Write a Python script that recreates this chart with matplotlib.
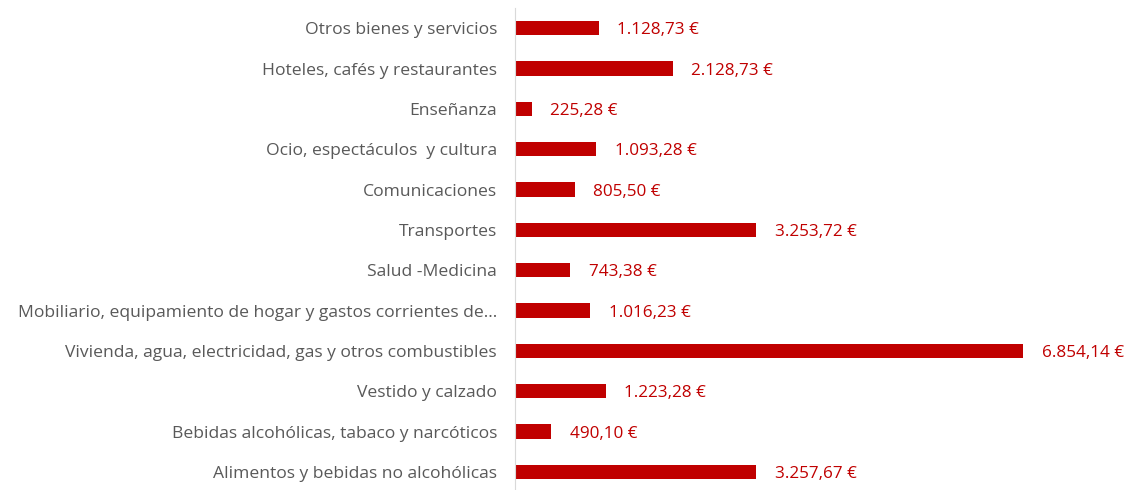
import matplotlib.pyplot as plt

categorias = [
    "Alimentos y bebidas no alcohólicas",
    "Bebidas alcohólicas, tabaco y narcóticos",
    "Vestido y calzado",
    "Vivienda, agua, electricidad, gas y otros combustibles",
    "Mobiliario, equipamiento de hogar y gastos corrientes de…",
    "Salud -Medicina",
    "Transportes",
    "Comunicaciones",
    "Ocio, espectáculos  y cultura",
    "Enseñanza",
    "Hoteles, cafés y restaurantes",
    "Otros bienes y servicios",
]
gasto = [3257.67, 490.10, 1223.28, 6854.14, 1016.23, 743.38,
         3253.72, 805.50, 1093.28, 225.28, 2128.73, 1128.73]

rojo = "#C00000"
gris = "#595959"


def euros(v):
    entero, dec = f"{v:.2f}".split(".")
    entero = f"{int(entero):,}".replace(",", ".")
    return f"{entero},{dec} €"


plt.rcParams["font.family"] = ["Open Sans", "DejaVu Sans"]

fig = plt.figure(figsize=(11.31, 4.9), dpi=100)
ax = fig.add_axes([515 / 1131, -2 / 490, 616 / 1131, 484 / 490])

pos = range(len(categorias))
ax.barh(pos, gasto, height=0.35, color=rojo)
for y, v in zip(pos, gasto):
    ax.text(v + 250, y, euros(v), va="center_baseline", ha="left",
            color=rojo, fontsize=12.3)

ax.set_xlim(0, 8310)
ax.set_ylim(-0.5, len(categorias) - 0.5)
ax.set_yticks(list(pos))
ax.set_yticklabels(categorias, color=gris, fontsize=12.6)
ax.tick_params(axis="y", length=0, pad=13)
ax.set_xticks([])
for lado in ["top", "right", "bottom"]:
    ax.spines[lado].set_visible(False)
ax.spines["left"].set_color("#D9D9D9")

fig.savefig("out.png", dpi=100)
